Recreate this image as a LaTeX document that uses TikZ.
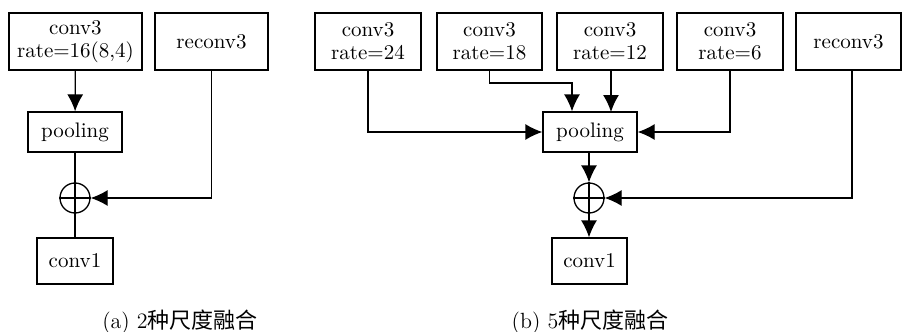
\documentclass[tikz,border=0pt]{standalone}
\usepackage{fontspec}
\newfontfamily\cjk{Noto Sans CJK SC}
\usetikzlibrary{arrows.meta}
\begin{document}
\begin{tikzpicture}[x=0.5pt,y=-0.5pt,
  box/.style={draw,line width=0.65pt,inner sep=0pt,align=center,font=\fontsize{10.5}{11.5}\selectfont},
  sumc/.style={draw,circle,line width=0.65pt,minimum size=15pt,inner sep=0pt},
  ln/.style={line width=0.65pt},
  arr/.style={line width=0.65pt,-{Latex[length=8.5pt,width=8pt]}},
  captext/.style={font=\fontsize{11}{13}\selectfont}]
\useasboundingbox (0,0) rectangle (902,332);
% ---- (a)
\node[box,minimum width=66.5pt,minimum height=28.5pt] (ac3) at (75.5,41.5) {conv3\\rate=16(8,4)};
\node[box,minimum width=56.5pt,minimum height=28.5pt] (are) at (211.5,41.5) {reconv3};
\node[box,minimum width=47pt,minimum height=20pt] (apool) at (75,132) {pooling};
\node[sumc] (asum) at (75,198) {};
\node[box,minimum width=38pt,minimum height=23pt] (ac1) at (75,261) {conv1};
\draw[arr] (ac3) -- (apool);
\draw[ln] (apool) -- (ac1);
\draw[ln] (asum.west) -- (asum.east);
\draw[arr] (are.south) |- (asum.east);
\node[captext] (capa) at (180,322) {(a) 2{\cjk 种尺度融合}};
% ---- (b)
\node[box,minimum width=53pt,minimum height=28.5pt] (b24) at (368,41.5) {conv3\\rate=24};
\node[box,minimum width=52.5pt,minimum height=28.5pt] (b18) at (489.5,41.5) {conv3\\rate=18};
\node[box,minimum width=53pt,minimum height=28.5pt] (b12) at (610,41.5) {conv3\\rate=12};
\node[box,minimum width=53pt,minimum height=28.5pt] (b6) at (730,41.5) {conv3\\rate=6};
\node[box,minimum width=52.5pt,minimum height=28.5pt] (bre) at (848.5,41.5) {reconv3};
\node[box,minimum width=47pt,minimum height=20pt] (bpool) at (590,132) {pooling};
\node[sumc] (bsum) at (589,198) {};
\node[box,minimum width=37.5pt,minimum height=23pt] (bc1) at (589.5,261) {conv1};
\coordinate (b18a) at (489.5,83);
\coordinate (b18b) at (572,83);
\draw[arr] (b24.south) |- (bpool.west);
\draw[arr] (b18.south) -- (b18a) -- (b18b) -- (b18b |- bpool.north);
\draw[arr] (b12.south -| 611,0) -- (611,112);
\draw[arr] (b6.south) |- (bpool.east);
\draw[arr] (bre.south -| 852,0) |- (bsum.east);
\draw[arr] (bpool.south -| bsum) -- (bsum.north);
\draw[arr] (bsum.south) -- (bsum |- bc1.north);
\draw[ln] (bsum.north) -- (bsum.south) (bsum.west) -- (bsum.east);
\node[captext] (capb) at (590,322) {(b) 5{\cjk 种尺度融合}};
\end{tikzpicture}
\end{document}
